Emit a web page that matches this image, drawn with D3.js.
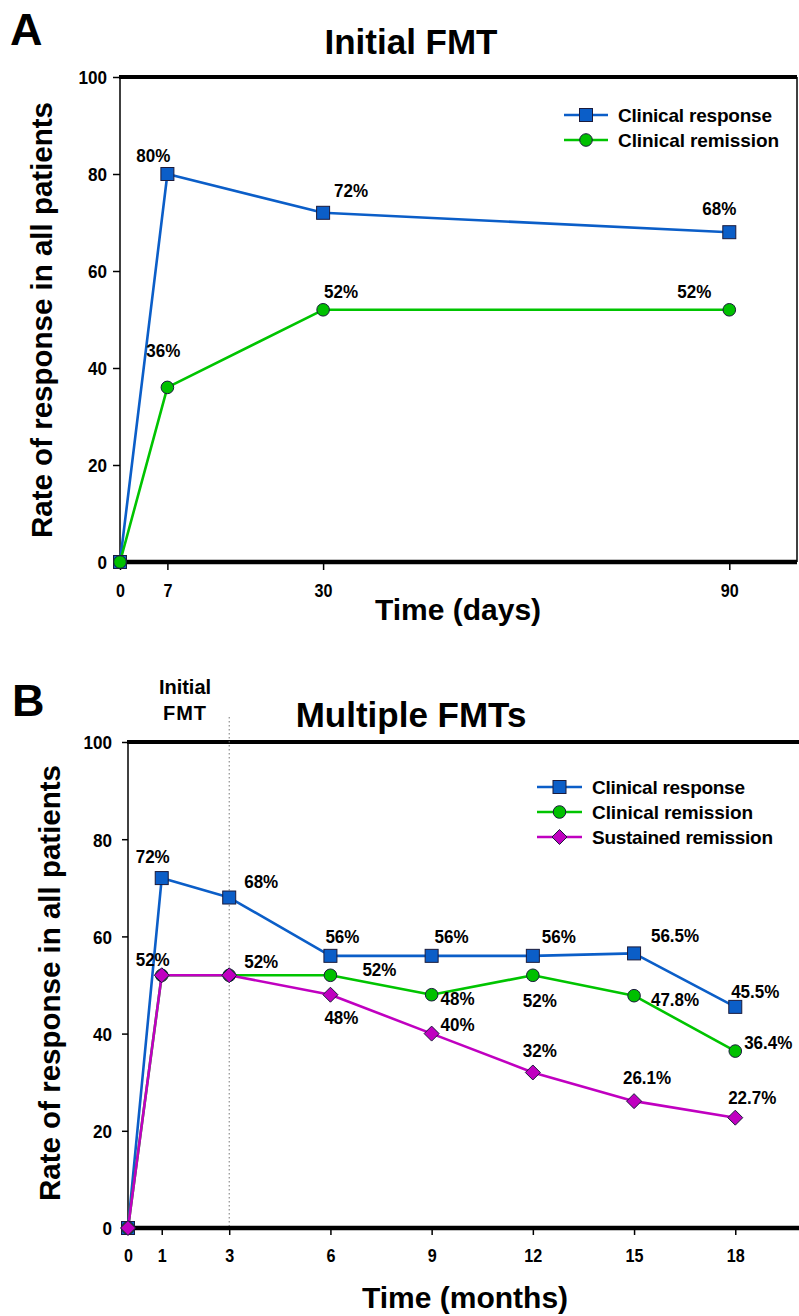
<!DOCTYPE html>
<html>
<head>
<meta charset="utf-8">
<script src="https://cdn.jsdelivr.net/npm/d3@7"></script>
<style>
  html, body { margin: 0; padding: 0; background: #fff; }
  svg { display: block; }
  text { font-family: "Liberation Sans", Arial, Helvetica, sans-serif; font-weight: bold; fill: #000; }
</style>
</head>
<body>
<svg id="chart" width="799" height="1316"></svg>
<script>
// ---------- DATA ----------
const aDays = [0, 7, 30, 90];
const aResponse = [0, 80, 72, 68];
const aRemission = [0, 36, 52, 52];
const aTickDays = [0, 7, 30, 90];

const bMonths = [0, 1, 3, 6, 9, 12, 15, 18];
const bResponse = [0, 72, 68, 56, 56, 56, 56.5, 45.5];
const bRemission = [0, 52, 52, 52, 48, 52, 47.8, 36.4];
const bSustained = [0, 52, 52, 48, 40, 32, 26.1, 22.7];
const bTickMonths = [0, 1, 3, 6, 9, 12, 15, 18];

const yTickValues = [0, 20, 40, 60, 80, 100];
const seriesNamesA = ["Clinical response", "Clinical remission"];
const seriesNamesB = ["Clinical response", "Clinical remission", "Sustained remission"];

// ---------- LAYOUT (label offsets in px, null = no label) ----------
const aLabelOffsets = [
  [null, [-14, -12], [28, -16], [-10, -17]],
  [null, [-4, -30], [18, -12], [-35, -12]]
];
const bLabelOffsets = [
  [null, [-9, -15], [32, -10], [12, -13], [20, -13], [26, -13], [41, -11], [20, -9]],
  [null, [-9, -9], [32, -7], [49, 1], [26, 10], [7, 32], [41, 10], [33, -2]],
  [null, null, null, [11, 29], [26, -3], [7, -15], [13, -17], [17, -14]]
];
const legendWidthsA = [154, 161];
const legendWidthsB = [153, 161, 181];

const styles = {
  response: { line: "#0b5ec8", fill: "#0b5ec8", shape: "square" },
  remission: { line: "#00c400", fill: "#00c000", shape: "circle" },
  sustained: { line: "#c000c0", fill: "#c000c0", shape: "diamond" }
};
const markerStroke = "#1b1b3c";

const svg = d3.select("#chart");

// condense text horizontally (narrow bold look of the reference)
function condense(sel, factor) {
  sel.each(function () {
    const w = this.getComputedTextLength();
    d3.select(this).attr("textLength", w * factor).attr("lengthAdjust", "spacingAndGlyphs");
  });
}

function drawMarker(g, shape, x, y, fill) {
  if (shape === "square") {
    g.append("rect").attr("x", x - 6.5).attr("y", y - 6.5).attr("width", 13).attr("height", 13)
      .attr("fill", fill).attr("stroke", markerStroke).attr("stroke-width", 1);
  } else if (shape === "circle") {
    g.append("circle").attr("cx", x).attr("cy", y).attr("r", 6.3)
      .attr("fill", fill).attr("stroke", markerStroke).attr("stroke-width", 1);
  } else {
    g.append("path").attr("d", `M${x},${y - 7.5}L${x + 7.5},${y}L${x},${y + 7.5}L${x - 7.5},${y}Z`)
      .attr("fill", fill).attr("stroke", markerStroke).attr("stroke-width", 1);
  }
}

function panel(cfg) {
  const g = svg.append("g");
  const x = d3.scaleLinear().domain(cfg.xDomain).range([cfg.left, cfg.right]);
  const y = d3.scaleLinear().domain([0, 100]).range([cfg.bottom, cfg.top]);

  // y axis ticks + labels
  const yAxis = d3.axisLeft(y).tickValues(yTickValues).tickSize(cfg.yTickLen).tickPadding(cfg.yPad);
  const ya = g.append("g").attr("transform", `translate(${cfg.left},0)`).call(yAxis);
  ya.select(".domain").remove();
  ya.selectAll(".tick line").attr("stroke", "#000").attr("stroke-width", 1.5);
  ya.selectAll(".tick text").attr("font-size", 19).attr("font-family", null).attr("dy", "0.36em");
  condense(ya.selectAll(".tick text"), 0.9);

  // x axis ticks + labels
  const xAxis = d3.axisBottom(x).tickValues(cfg.xTicks).tickSize(cfg.xTickLen).tickFormat(d3.format("d"));
  const xa = g.append("g").attr("transform", `translate(0,${cfg.bottom})`).call(xAxis);
  xa.select(".domain").remove();
  xa.selectAll(".tick line").attr("stroke", "#000").attr("stroke-width", 1.5);
  xa.selectAll(".tick text").attr("font-size", 19).attr("font-family", null)
    .attr("y", cfg.xLabelBase).attr("dy", null);
  condense(xa.selectAll(".tick text"), 0.85);

  // frame
  g.append("line").attr("x1", cfg.left).attr("x2", cfg.left).attr("y1", cfg.top).attr("y2", cfg.bottom)
    .attr("stroke", "#000").attr("stroke-width", 1.5);
  if (cfg.rightBorder) {
    g.append("line").attr("x1", cfg.right).attr("x2", cfg.right).attr("y1", cfg.top).attr("y2", cfg.bottom)
      .attr("stroke", "#000").attr("stroke-width", 1.5);
  }
  g.append("line").attr("x1", cfg.left - 1).attr("x2", cfg.frameRight).attr("y1", cfg.top).attr("y2", cfg.top)
    .attr("stroke", "#000").attr("stroke-width", 4);

  // dotted divider
  if (cfg.divider != null) {
    g.append("line").attr("x1", x(cfg.divider)).attr("x2", x(cfg.divider))
      .attr("y1", cfg.dividerTop).attr("y2", cfg.bottom)
      .attr("stroke", "#777").attr("stroke-width", 1).attr("stroke-dasharray", "1.5,2.5");
  }

  g.append("line").attr("x1", cfg.left - 1).attr("x2", cfg.frameRight).attr("y1", cfg.bottom).attr("y2", cfg.bottom)
    .attr("stroke", "#000").attr("stroke-width", 4.5);

  // series
  const line = d3.line().x(d => x(d[0])).y(d => y(d[1]));
  cfg.series.forEach(s => {
    const pts = cfg.xs.map((xv, i) => [xv, s.values[i]]);
    g.append("path").datum(pts).attr("d", line).attr("fill", "none")
      .attr("stroke", s.style.line).attr("stroke-width", 2.6).attr("stroke-linejoin", "round");
  });
  cfg.series.forEach(s => {
    cfg.xs.forEach((xv, i) => drawMarker(g, s.style.shape, x(xv), y(s.values[i]), s.style.fill));
  });
  cfg.series.forEach(s => {
    cfg.xs.forEach((xv, i) => {
      const off = s.offsets[i];
      if (!off) return;
      const t = g.append("text").attr("x", x(xv) + off[0]).attr("y", y(s.values[i]) + off[1])
        .attr("text-anchor", "middle").attr("font-size", 18.5).text(s.values[i] + "%");
      condense(t, 0.92);
    });
  });

  // legend
  cfg.series.forEach((s, i) => {
    const ly = cfg.legendY + i * cfg.legendStep;
    g.append("line").attr("x1", cfg.legendX1).attr("x2", cfg.legendX2).attr("y1", ly).attr("y2", ly)
      .attr("stroke", s.style.line).attr("stroke-width", 2.6);
    drawMarker(g, s.style.shape, (cfg.legendX1 + cfg.legendX2) / 2, ly, s.style.fill);
    g.append("text").attr("x", cfg.legendTextX).attr("y", ly + 7).attr("font-size", 19)
      .attr("textLength", s.legendWidth).attr("lengthAdjust", "spacing").text(s.name);
  });

  // titles
  g.append("text").attr("x", cfg.titleX).attr("y", cfg.titleY).attr("text-anchor", "middle")
    .attr("font-size", 35).text(cfg.title);
  g.append("text").attr("x", cfg.letterX).attr("y", cfg.letterY).attr("font-size", 45).text(cfg.letter);
  g.append("text").attr("x", cfg.xTitleX).attr("y", cfg.xTitleY).attr("text-anchor", "middle")
    .attr("font-size", 30).text(cfg.xTitle);
  g.append("text").attr("transform", `translate(${cfg.yTitleX},${cfg.yTitleY}) rotate(-90)`)
    .attr("text-anchor", "middle").attr("font-size", 29.5).text("Rate of response in all patients");
  return { g, x, y };
}

// Panel A
panel({
  left: 120, right: 797, frameRight: 797, top: 77, bottom: 562, rightBorder: true,
  xDomain: [0, 100], xTicks: aTickDays, xs: aDays,
  yTickLen: 7, yPad: 6, xTickLen: 8, xLabelBase: 35,
  series: [
    { name: seriesNamesA[0], values: aResponse, style: styles.response, offsets: aLabelOffsets[0], legendWidth: legendWidthsA[0] },
    { name: seriesNamesA[1], values: aRemission, style: styles.remission, offsets: aLabelOffsets[1], legendWidth: legendWidthsA[1] }
  ],
  legendX1: 564, legendX2: 608, legendTextX: 618, legendY: 115, legendStep: 25,
  title: "Initial FMT", titleX: 411, titleY: 54,
  letter: "A", letterX: 10, letterY: 45,
  xTitle: "Time (days)", xTitleX: 458, xTitleY: 620,
  yTitleX: 52, yTitleY: 320
});

// Panel B
const pB = panel({
  left: 128, right: 796, frameRight: 799, top: 742, bottom: 1228, rightBorder: false,
  xDomain: [0, 19.8], xTicks: bTickMonths, xs: bMonths,
  yTickLen: 6, yPad: 10, xTickLen: 7, xLabelBase: 34,
  divider: 3, dividerTop: 717,
  series: [
    { name: seriesNamesB[0], values: bResponse, style: styles.response, offsets: bLabelOffsets[0], legendWidth: legendWidthsB[0] },
    { name: seriesNamesB[1], values: bRemission, style: styles.remission, offsets: bLabelOffsets[1], legendWidth: legendWidthsB[1] },
    { name: seriesNamesB[2], values: bSustained, style: styles.sustained, offsets: bLabelOffsets[2], legendWidth: legendWidthsB[2] }
  ],
  legendX1: 537, legendX2: 582, legendTextX: 592, legendY: 787, legendStep: 25,
  title: "Multiple FMTs", titleX: 411, titleY: 727,
  letter: "B", letterX: 12, letterY: 716,
  xTitle: "Time (months)", xTitleX: 465, xTitleY: 1308,
  yTitleX: 60, yTitleY: 983
});

// "Initial FMT" annotation above the divider
pB.g.append("text").attr("x", 185).attr("y", 694).attr("text-anchor", "middle").attr("font-size", 20).text("Initial");
pB.g.append("text").attr("x", 185).attr("y", 720).attr("text-anchor", "middle").attr("font-size", 20)
  .attr("letter-spacing", 1).text("FMT");
</script>
</body>
</html>
